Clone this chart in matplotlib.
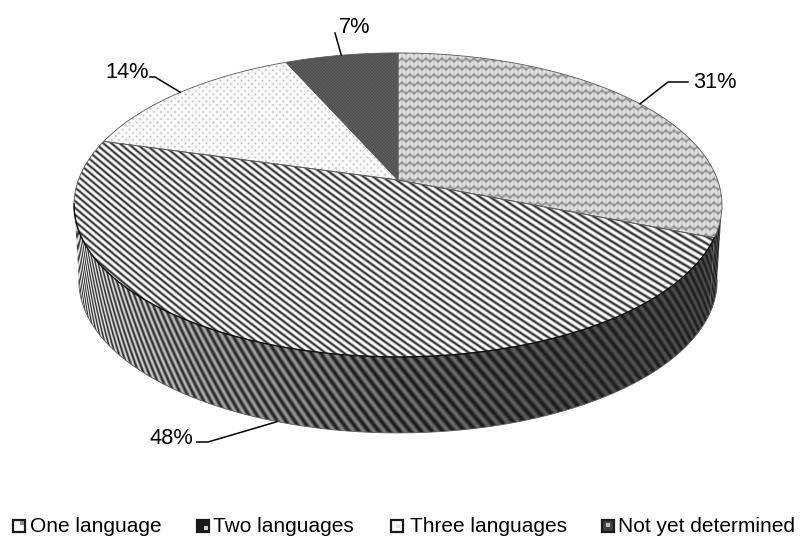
import numpy as np
import matplotlib
matplotlib.use('Agg')
import matplotlib.pyplot as plt
from matplotlib.patches import Polygon, Rectangle

plt.rcParams['font.family'] = ['Liberation Sans', 'DejaVu Sans']

categories = ['One language', 'Two languages', 'Three languages', 'Not yet determined']
shares = [31.0, 48.4, 14.0, 6.6]
share_labels = ['31%', '48%', '14%', '7%']

W, H = 800, 536
CX, CY = 398, 180      # apex of the pie
A, B, K = 147.9, 319.6, -0.164   # disc perspective
DEPTH = 76
BOTTOM_SCALE = 0.985


def disc(pct, depth=0, scale=1.0):
    # percent clockwise from 12 o'clock -> canvas position
    t = np.radians(np.asarray(pct, dtype=float) * 3.6)
    u, v = np.sin(t), np.cos(t)
    d = 1 - K * v
    return CX + scale * B * u / d, CY - A * v / d + depth


def top_arc(p0, p1):
    return np.column_stack(disc(np.linspace(p0, p1, 120)))


def low_arc(p0, p1):
    return np.column_stack(disc(np.linspace(p0, p1, 120), DEPTH, BOTTOM_SCALE))


xg, yg = np.meshgrid(np.arange(W) + 0.5, np.arange(H) + 0.5)

# top face textures
band = 0.5 + 0.5 * np.cos(2 * np.pi * (yg - 0.883 * xg + 0.000217 * xg ** 2) / 6.8)
stripe_top = 1.0 - 0.8 * band ** 1.5
row = np.mod(yg + 1.2 * np.sin(2 * np.pi * xg / 8), 8) - 4
wave_top = 0.86 - 0.30 * np.exp(-(row / 1.5) ** 2) + 0.04 * np.cos(2 * np.pi * xg / 4)
dot_a = np.hypot(np.mod(xg, 7) - 3.5, np.mod(yg, 7) - 3.5)
dot_b = np.hypot(np.mod(xg + 3.5, 7) - 3.5, np.mod(yg + 3.5, 7) - 3.5)
dots_top = 0.98 - 0.24 * np.exp(-(np.minimum(dot_a, dot_b) / 1.0) ** 2)
dark_top = 0.34 + 0.05 * np.cos(2 * np.pi * xg / 3) * np.cos(2 * np.pi * yg / 3)

# side textures, stripes wrap round the rim
lower = top_arc(27.5, 72.5)
rim_y = np.interp(xg, lower[::-1, 0], lower[::-1, 1])
arc = 324 * np.arcsin(np.clip((xg - CX) / 324, -1, 1))
wrap = 0.5 + 0.5 * np.cos(2 * np.pi * (arc - 0.8 * (yg - rim_y)) / 10.5)
side_light = np.interp(xg, [75, 130, 200, 300, 400, 560, 720], [0.92, 0.85, 0.68, 0.58, 0.46, 0.34, 0.30])
side_dark = np.interp(xg, [75, 300, 400, 720], [0.22, 0.13, 0.10, 0.12])
stripe_side = side_dark + (side_light - side_dark) * wrap

fig = plt.figure(figsize=(W / 100, H / 100), dpi=100)
ax = fig.add_axes([0, 0, 1, 1])
ax.set_xlim(0, W)
ax.set_ylim(H, 0)
ax.axis('off')


def textured(points, tex, edge='0.3', lw=0.7, z=2):
    patch = Polygon(points, closed=True, facecolor='none', edgecolor=edge, lw=lw, zorder=z + 0.5)
    ax.add_patch(patch)
    im = ax.imshow(tex, cmap='gray', vmin=0, vmax=1, extent=(0, W, H, 0), aspect='auto',
                   interpolation='nearest', zorder=z)
    im.set_clip_path(patch)


starts = np.concatenate([[0], np.cumsum(shares)[:-1]])
ends = np.cumsum(shares)
top_tex = [wave_top, stripe_top, dots_top, dark_top]

# rim: only the near part of the pie shows a side
for p0, p1 in [(27.5, ends[0]), (ends[0], 72.5)]:
    pts = np.vstack([top_arc(p0, p1), low_arc(p0, p1)[::-1]])
    textured(pts, stripe_side, edge='none', lw=0, z=2)
ax.plot(*low_arc(27.5, 72.5).T, color='0.35', lw=0.6, zorder=3)

for p0, p1, tex in zip(starts, ends, top_tex):
    pts = np.vstack([[CX, CY], top_arc(p0, p1)])
    textured(pts, tex, edge='0.35', lw=0.6, z=3)
ax.plot(*top_arc(ends[0], 72.5).T, color='0.05', lw=1.0, zorder=4)

# leader lines from mid slice to label
label_pos = [(693, 88), (150, 444), (105, 78), (339, 33)]
elbows = [[(668, 82), (688, 82)], [(208, 442), (197, 442)], [(155, 77), (150, 77)], [(335, 33)]]
mids = (starts + ends) / 2
for i, lab in enumerate(share_labels):
    depth = DEPTH if i == 1 else 0
    x0, y0 = disc(mids[i], depth)
    line = [(x0, y0)] + elbows[i]
    ax.plot(*zip(*line), color='black', lw=1.1, zorder=5, solid_joinstyle='miter')
    ax.text(label_pos[i][0], label_pos[i][1], lab, fontsize=15.7, color='black', va='baseline', ha='left', zorder=6)

# legend
key_x = [13, 197, 391, 602]
text_x = [30, 213, 410, 618]
key_face = ['white', '0.1', 'white', '0.25']
key_patch = [((20, 521), '0.55'), ((204, 526), '0.8'), ((396, 524), '0.9'), ((606, 523), '0.75')]
for i, name in enumerate(categories):
    ax.add_patch(Rectangle((key_x[i], 520), 12, 12, facecolor=key_face[i], edgecolor='0.1', lw=1.6, zorder=5))
    (px, py), pc = key_patch[i]
    ax.add_patch(Rectangle((px, py), 4, 4, facecolor=pc, edgecolor='none', zorder=6))
    ax.text(text_x[i], 532, name, fontsize=15, color='black', va='baseline', ha='left')

fig.savefig('out.png', dpi=100)
